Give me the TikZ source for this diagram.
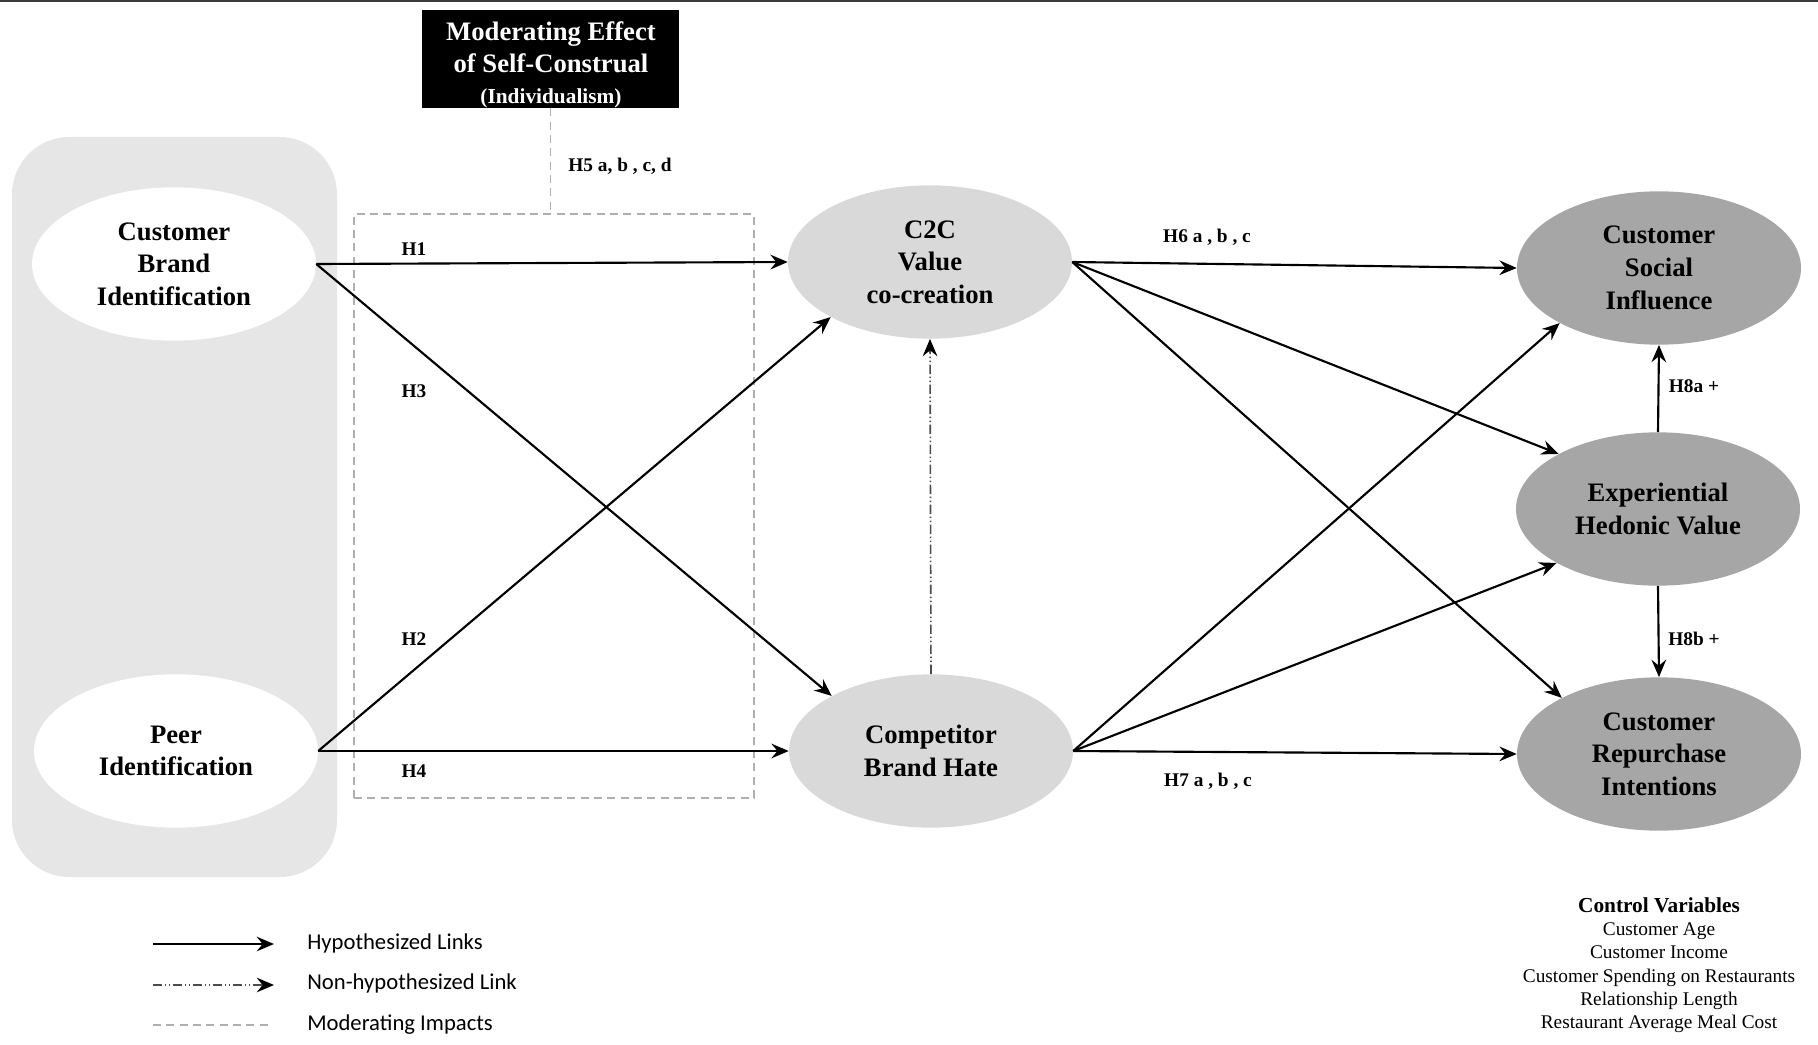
\documentclass[tikz,border=0pt]{standalone}
\usepackage{fontspec}
\setmainfont{Liberation Serif}
\newfontfamily\legfont{Carlito}
\usetikzlibrary{arrows.meta,shapes.geometric}
\definecolor{boxgrey}{RGB}{230,230,230}
\definecolor{lightell}{RGB}{217,217,217}
\definecolor{darkell}{RGB}{166,166,166}
\definecolor{dashgrey}{RGB}{175,175,175}
\definecolor{topline}{RGB}{60,60,60}
\begin{document}
\begin{tikzpicture}[x=0.75pt,y=-0.75pt,
  ell/.style={ellipse, inner sep=0pt, minimum width=213pt, minimum height=115pt,
    align=center, font=\fontsize{20}{24.5}\selectfont\bfseries},
  whiteell/.style={ell, fill=white},
  lightell/.style={ell, fill=lightell},
  darkell/.style={ell, fill=darkell},
  link/.style={line width=1.6pt, -{Stealth[length=13pt,width=11pt,inset=4.5pt]}},
  nonlink/.style={line width=1.2pt, draw=black!70,
    dash pattern=on 7pt off 2pt on 1pt off 2pt on 1pt off 2pt,
    -{Stealth[length=13pt,width=11pt,inset=4.5pt,black]}},
  modline/.style={draw=dashgrey, line width=1.1pt, dash pattern=on 6pt off 4pt},
  hlab/.style={font=\fontsize{14.5}{17}\selectfont\bfseries, inner sep=0pt},
  legtext/.style={font=\legfont\fontsize{17}{20}\selectfont, anchor=west, inner sep=0pt},
]
\useasboundingbox (0,0) rectangle (1818,1045);
% top rule
\draw[topline, line width=1.6pt] (0,1) -- (1818,1);

% grey panel
\node[fill=boxgrey, rounded corners=43pt, minimum width=243.75pt, minimum height=555pt,
      inner sep=0pt] (idbox) at (174.5,507) {};
% moderating dashed box
\node[modline, minimum width=300pt, minimum height=438pt, inner sep=0pt] (modbox) at (554,506) {};

% moderator
\node[fill=black, minimum width=193pt, minimum height=73.5pt, inner sep=0pt] (mod) at (550.5,59) {};
\node[text=white, inner sep=0pt, align=center, font=\fontsize{20}{23.5}\selectfont\bfseries]
  (modtext) at (551,65)
  {Moderating Effect\\ of Self-Construal\\
   {\fontsize{16}{23.5}\selectfont (Individualism)}};
\draw[modline] (mod.south) -- (mod.south |- modbox.north);
\node[hlab] (h5) at (620,166) {H5 a, b , c, d};

% constructs
\node[whiteell] (cbi) at (174,264) {Customer\\Brand\\Identification};
\node[whiteell] (peer) at (176,751) {Peer\\Identification};
\node[lightell] (c2c) at (930,262) {C2C\\Value\\co-creation};
\node[lightell] (comp) at (931,751) {Competitor\\Brand Hate};
\node[darkell] (csi) at (1659,268) {Customer\\Social\\Influence};
\node[darkell] (ehv) at (1658,509) {Experiential\\Hedonic Value};
\node[darkell] (cri) at (1659,754) {Customer\\Repurchase\\Intentions};

% links
\draw[link] (cbi.east) -- (c2c.west);
\draw[link] (cbi.east) -- (comp.151);
\draw[link] (peer.east) -- (c2c.209);
\draw[link] (peer.east) -- (comp.west);
\draw[nonlink] (comp.north) -- (c2c.south);

\draw[link] (c2c.east) -- (csi.west);
\draw[link] (c2c.east) -- (ehv.151);
\draw[link] (c2c.east) -- (cri.150);
\draw[link] (comp.east) -- (csi.209);
\draw[link] (comp.east) -- (ehv.208);
\draw[link] (comp.east) -- (cri.west);
\draw[link] (ehv.north) -- (csi.south);
\draw[link] (ehv.south) -- (cri.north);

% labels
\node[hlab] (h1) at (414,249) {H1};
\node[hlab] (h3) at (414,391) {H3};
\node[hlab] (h2) at (414,639) {H2};
\node[hlab] (h4) at (414,771) {H4};
\node[hlab] (h6) at (1207,237) {H6 a , b , c};
\node[hlab] (h7) at (1208,781) {H7 a , b , c};
\node[hlab] (h8a) at (1694,386) {H8a +};
\node[hlab] (h8b) at (1694,639) {H8b +};

% legend
\coordinate (l1a) at (153,944); \coordinate (l1b) at (274,944);
\coordinate (l2a) at (153,985); \coordinate (l2b) at (274,985);
\coordinate (l3a) at (153,1025); \coordinate (l3b) at (272,1025);
\draw[link] (l1a) -- (l1b);
\draw[nonlink] (l2a) -- (l2b);
\draw[modline] (l3a) -- (l3b);
\node[legtext] (t1) at (307,943) {Hypothesized Links};
\node[legtext] (t2) at (307,983) {Non-hypothesized Link};
\node[legtext] (t3) at (307,1025) {Moderating Impacts};

% control variables
\node[align=center, inner sep=0pt, anchor=north, font=\fontsize{14.5}{17.5}\selectfont] (ctrl) at (1659,897)
  {{\fontsize{16}{17.5}\selectfont\bfseries Control Variables}\\
   Customer Age\\
   Customer Income\\
   Customer Spending on Restaurants\\
   Relationship Length\\
   Restaurant Average Meal Cost};
\end{tikzpicture}
\end{document}
